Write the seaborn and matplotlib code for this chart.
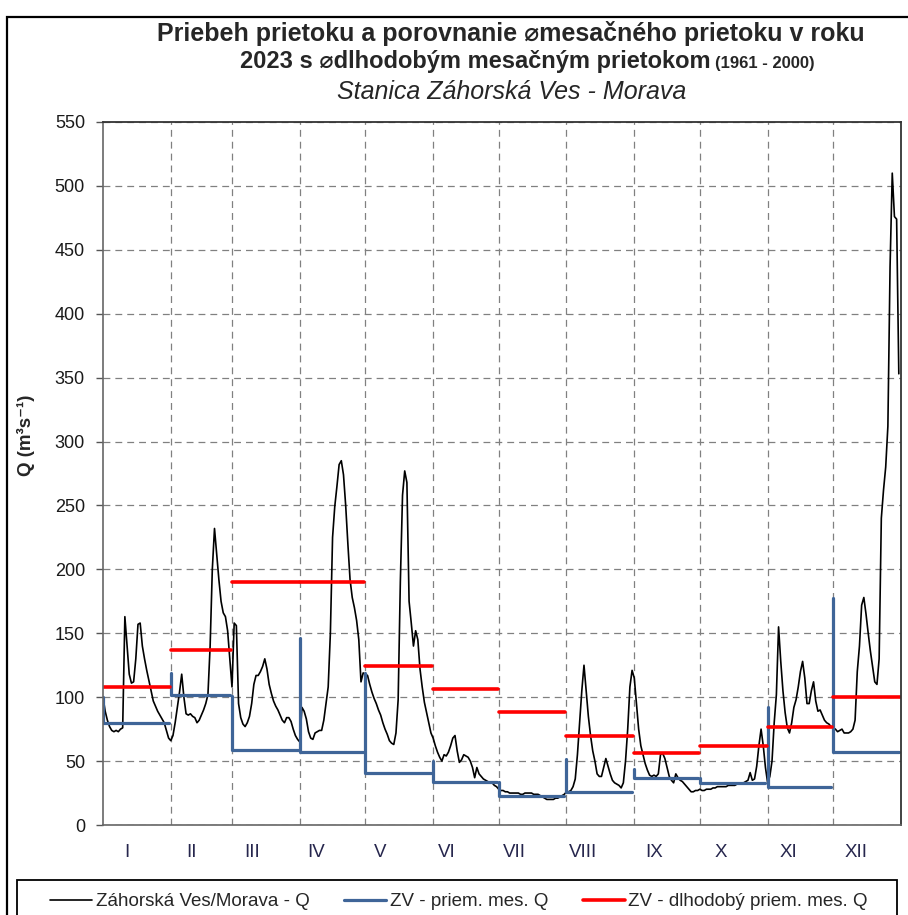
"""
Priebeh prietoku - stanica Záhorská Ves (Morava), rok 2023

Denný prietok, priemerný mesačný prietok v roku 2023
a dlhodobý priemerný mesačný prietok (1961 - 2000).
"""

# ==========================
# KNIŽNICE
# ==========================

import matplotlib.pyplot as plt
import numpy as np
import pandas as pd
import seaborn as sns

from matplotlib.lines import Line2D
from matplotlib.patches import Rectangle


# ==========================
# DÁTA
# ==========================

MESIACE = ["I", "II", "III", "IV", "V", "VI",
           "VII", "VIII", "IX", "X", "XI", "XII"]

DNI_V_MESIACI = [31, 28, 31, 30, 31, 30, 31, 31, 30, 31, 30, 31]

# denný prietok Q (m3/s) po mesiacoch
Q_I = [100, 89, 82, 77, 74, 73, 74, 73, 75, 76, 163, 140, 118, 111, 112,
       130, 157, 158, 140, 130, 121, 113, 105, 97, 93, 89, 86, 83, 80, 74, 68]
Q_II = [66, 70, 80, 92, 104, 118, 100, 87, 86, 87, 85, 84, 80, 82, 86,
        90, 95, 102, 140, 200, 232, 212, 192, 175, 166, 163, 152, 130]
Q_III = [108, 158, 156, 95, 84, 79, 77, 80, 85, 95, 110, 117, 117, 120, 124,
         130, 122, 110, 103, 97, 93, 90, 86, 82, 80, 84, 84, 81, 75, 70, 67]
Q_IV = [65, 92, 89, 83, 73, 68, 67, 72, 73, 74, 74, 82, 95, 108, 150,
        225, 249, 265, 282, 285, 274, 250, 220, 192, 178, 170, 160, 145, 112, 119]
Q_V = [118, 117, 110, 104, 99, 95, 90, 86, 80, 75, 71, 66, 64, 63, 72,
       98, 190, 258, 277, 268, 175, 158, 140, 152, 145, 122, 108, 96, 88, 80, 72]
Q_VI = [68, 62, 57, 53, 50, 55, 54, 57, 62, 68, 70, 58, 49, 51, 55,
        54, 53, 50, 45, 37, 45, 40, 38, 36, 35, 34, 33, 33, 31, 30]
Q_VII = [28, 27, 27, 26, 26, 25, 25, 25, 25, 25, 24, 24, 25, 25, 25,
         25, 24, 24, 24, 23, 22, 21, 20, 20, 20, 20, 21, 21, 22, 23, 24]
Q_VIII = [26, 26, 27, 30, 36, 55, 80, 105, 125, 105, 85, 70, 58, 50, 40,
          38, 38, 45, 52, 46, 40, 35, 33, 32, 31, 29, 33, 50, 75, 108, 121]
Q_IX = [115, 95, 75, 62, 55, 48, 43, 39, 38, 39, 38, 40, 55, 56, 52,
        45, 38, 35, 33, 40, 37, 35, 34, 32, 30, 28, 26, 26, 27, 27]
Q_X = [28, 27, 27, 28, 28, 28, 29, 29, 30, 30, 30, 30, 30, 31, 31,
       31, 31, 32, 32, 33, 33, 34, 35, 41, 35, 36, 46, 62, 75, 62, 45]
Q_XI = [33, 38, 50, 80, 102, 155, 128, 105, 88, 76, 72, 80, 92, 98, 108,
        120, 128, 115, 95, 95, 105, 112, 97, 89, 90, 86, 82, 80, 79, 77]
Q_XII = [76, 75, 73, 74, 75, 72, 72, 72, 73, 75, 82, 120, 140, 172, 178,
         165, 150, 136, 124, 112, 110, 130, 240, 262, 280, 312, 437, 510, 476, 474, 353]

# priemerný mesačný prietok 2023 (a hodnota na začiatku mesiaca)
PRIEM_Q_ZACIATOK = [100, 119, 101, 146, 119, 50, 34, 52, 44, 37, 92.5, 177.5]
PRIEM_Q_2023 = [79.5, 101.5, 58.3, 57.5, 40.4, 33.8, 23.0, 26.0, 36.5, 33.0, 30.0, 57.0]

# dlhodobý priemerný mesačný prietok 1961 - 2000
DLHODOBY_Q = [107.7, 137.2, 190.3, 190.0, 124.7, 106.6, 88.2, 69.4, 56.1, 61.5, 76.5, 99.8]


# ==========================
# NASTAVENIA
# ==========================

W, H = 908, 915

MODRA = "#3F6598"
CERVENA = "#FF0000"
SIVA = "#808080"

# poloha popisov mesiacov (deň v roku)
POZICIE_POPISOV = [11, 40.7, 68.2, 97.4, 126.7, 157.3,
                   188, 219.5, 252, 282.6, 313.7, 344.5]

CIARKOVANA = (0, (5.5, 4))


def fx(px):
    return px / W


def fy(py):
    return 1 - py / H


# ==========================
# PRÍPRAVA DÁT
# ==========================

def priprav_data():

    """
    Poskladá denné a mesačné rady do tabuliek.
    """

    denne = np.concatenate([Q_I, Q_II, Q_III, Q_IV, Q_V, Q_VI,
                            Q_VII, Q_VIII, Q_IX, Q_X, Q_XI, Q_XII])

    df_q = pd.DataFrame({"den": np.arange(len(denne)), "q": denne})

    zaciatky = np.concatenate([[0], np.cumsum(DNI_V_MESIACI)[:-1]])

    priem = []
    dlh = []

    for i, (zac, dni) in enumerate(zip(zaciatky, DNI_V_MESIACI)):
        kon = zac + dni - 1
        priem += [
            (i, zac, PRIEM_Q_ZACIATOK[i]),
            (i, zac, PRIEM_Q_2023[i]),
            (i, kon, PRIEM_Q_2023[i]),
        ]
        dlh += [
            (i, zac, DLHODOBY_Q[i]),
            (i, kon + 0.5, DLHODOBY_Q[i]),
        ]

    df_priem = pd.DataFrame(priem, columns=["mesiac", "den", "q"])
    df_dlh = pd.DataFrame(dlh, columns=["mesiac", "den", "q"])

    return df_q, df_priem, df_dlh, zaciatky


# ==========================
# GRAF
# ==========================

def nakresli_graf(df_q, df_priem, df_dlh, zaciatky):

    """
    Nakreslí priebeh prietoku s mesačnými priemermi.
    """

    sns.set_style("white")
    plt.rcParams["font.family"] = ["Liberation Sans", "DejaVu Sans"]

    fig = plt.figure(figsize=(W / 100, H / 100), dpi=100)

    ax = fig.add_axes([fx(103), fy(825), fx(901) - fx(103), fy(122) - fy(825)])

    sns.lineplot(data=df_q, x="den", y="q", estimator=None,
                 color="black", linewidth=1.2, ax=ax)

    sns.lineplot(data=df_priem, x="den", y="q", units="mesiac",
                 estimator=None, sort=False, color=MODRA,
                 linewidth=2.3, ax=ax)

    sns.lineplot(data=df_dlh, x="den", y="q", units="mesiac",
                 estimator=None, sort=False, color=CERVENA,
                 linewidth=2.6, ax=ax)

    # osi

    ax.set_xlim(0, 365)
    ax.set_ylim(0, 550)

    ax.set_xlabel("")
    ax.set_ylabel("")

    ax.set_yticks(range(0, 551, 50))

    ax.set_xticks(zaciatky[1:])
    ax.set_xticklabels([])
    ax.set_xticks(POZICIE_POPISOV, minor=True)
    ax.set_xticklabels(MESIACE, minor=True)

    ax.tick_params(axis="x", which="both", length=0)
    ax.tick_params(axis="x", which="minor", pad=14,
                   labelsize=13.5, labelcolor="#26264d")
    ax.tick_params(axis="y", length=5, width=1, color="#555555",
                   pad=8, labelsize=13, labelcolor="#1a1a1a", left=True)

    ax.grid(True, which="major", color=SIVA, linestyle=CIARKOVANA,
            linewidth=0.9)

    for strana in ["left", "bottom"]:
        ax.spines[strana].set_color("#666666")
        ax.spines[strana].set_linewidth(1.2)

    for strana in ["top", "right"]:
        ax.spines[strana].set_color("#333333")
        ax.spines[strana].set_linewidth(1.3)

    # titulok

    fig.text(fx(511), fy(41),
             "Priebeh prietoku a porovnanie \u2300mesačného prietoku v roku",
             ha="center", va="baseline", fontsize=18, fontweight="bold")

    fig.text(fx(711), fy(68),
             "2023 s \u2300dlhodobým mesačným prietokom",
             ha="right", va="baseline", fontsize=17, fontweight="bold")

    fig.text(fx(715), fy(68), "(1961 - 2000)",
             ha="left", va="baseline", fontsize=12, fontweight="bold")

    fig.text(fx(512), fy(99), "Stanica Záhorská Ves - Morava",
             ha="center", va="baseline", fontsize=18, style="italic")

    fig.text(fx(26), fy(435), "Q (m³s⁻¹)", rotation=90,
             ha="center", va="center", fontsize=13.5, fontweight="bold")

    # rámčeky

    fig.add_artist(Rectangle((fx(7), -0.1), 1.2, fy(17) + 0.1,
                             transform=fig.transFigure, fill=False,
                             edgecolor="black", linewidth=1.6))

    fig.add_artist(Rectangle((fx(17), fy(935)), fx(897) - fx(17),
                             fy(880) - fy(935), transform=fig.transFigure,
                             fill=False, edgecolor="black", linewidth=1.3))

    # legenda

    polozky = [
        Line2D([], [], color="black", linewidth=1.2),
        Line2D([], [], color=MODRA, linewidth=2.3),
        Line2D([], [], color=CERVENA, linewidth=2.6),
    ]

    popisy = [
        "Záhorská Ves/Morava - Q",
        "ZV - priem. mes. Q",
        "ZV - dlhodobý priem. mes. Q",
    ]

    fig.legend(
        polozky,
        popisy,
        ncol=3,
        mode="expand",
        loc="center left",
        bbox_to_anchor=(fx(50), fy(901.7), fx(868) - fx(50), 0),
        frameon=False,
        fontsize=13.5,
        handlelength=2.25,
        handletextpad=0.2,
        borderpad=0,
        borderaxespad=0,
    )

    fig.savefig("out.png", dpi=100)


# ==========================
# HLAVNÁ FUNKCIA
# ==========================

def main():

    df_q, df_priem, df_dlh, zaciatky = priprav_data()

    nakresli_graf(df_q, df_priem, df_dlh, zaciatky)


if __name__ == "__main__":
    main()
